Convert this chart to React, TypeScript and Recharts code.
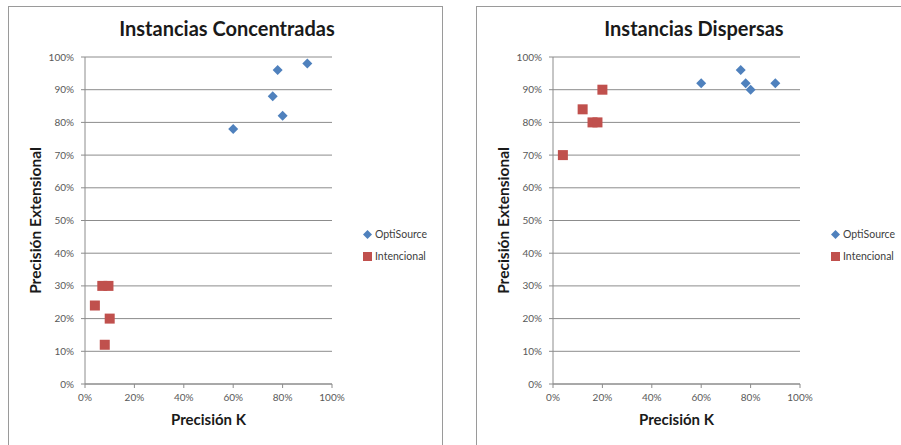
import React from 'react';
import { ScatterChart, Scatter, XAxis, YAxis, CartesianGrid, Label } from 'recharts';

// Instancias Concentradas
const concOptiX = [60, 76, 78, 80, 90];
const concOptiY = [78, 88, 96, 82, 98];
const concIntX = [7, 9.5, 4, 10, 8];
const concIntY = [30, 30, 24, 20, 12];

// Instancias Dispersas
const dispOptiX = [60, 76, 78, 80, 90];
const dispOptiY = [92, 96, 92, 90, 92];
const dispIntX = [4, 12, 16, 18, 20];
const dispIntY = [70, 84, 80, 80, 90];

const xTicks = [0, 20, 40, 60, 80, 100];
const yTicks = [0, 10, 20, 30, 40, 50, 60, 70, 80, 90, 100];

const BLUE = '#4F81BD';
const RED = '#C0504D';
const FONT = 'Lato, "Open Sans", sans-serif';

const toPoints = (xs: number[], ys: number[]) => xs.map((x, i) => ({ x, y: ys[i] }));

const Diamond = (props: any) => {
  const { cx, cy } = props;
  const r = 5;
  return <polygon points={`${cx},${cy - r} ${cx + r},${cy} ${cx},${cy + r} ${cx - r},${cy}`} fill={BLUE} />;
};

const Square = (props: any) => {
  const { cx, cy } = props;
  return <rect x={cx - 5} y={cy - 5} width={10} height={10} fill={RED} />;
};

const LegendBox = ({ left, top }: { left: number; top: number }) => (
  <div style={{ position: 'absolute', left, top, fontFamily: FONT, fontSize: 10.5, color: '#404040', lineHeight: '22px' }}>
    <div style={{ display: 'flex', alignItems: 'center' }}>
      <svg width={9} height={9} style={{ marginRight: 3 }}>
        <polygon points="4.5,0 9,4.5 4.5,9 0,4.5" fill={BLUE} />
      </svg>
      OptiSource
    </div>
    <div style={{ display: 'flex', alignItems: 'center' }}>
      <svg width={9} height={9} style={{ marginRight: 3 }}>
        <rect x={0} y={0} width={9} height={9} fill={RED} />
      </svg>
      Intencional
    </div>
  </div>
);

const tickStyle = { fill: '#595959', fontSize: 10, fontFamily: FONT };

interface PanelProps {
  left: number;
  title: string;
  marginLeft: number;
  opti: { x: number; y: number }[];
  inten: { x: number; y: number }[];
  legendLeft: number;
  titleCenter: number;
}

const Panel: React.FC<PanelProps> = ({ left, title, marginLeft, opti, inten, legendLeft, titleCenter }) => (
  <div style={{ position: 'absolute', left, top: 0, width: 451, height: 445 }}>
    <div
      style={{
        position: 'absolute', left: titleCenter - 150, width: 300, top: 16, textAlign: 'center',
        fontFamily: FONT, fontWeight: 700, fontSize: 20, color: '#1a1a1a',
      }}
    >
      {title}
    </div>
    <ScatterChart width={451} height={445} margin={{ top: 57, right: 451 - marginLeft - 65 - 247, bottom: 16, left: marginLeft }}>
      <CartesianGrid vertical={false} stroke="#8c8c8c" />
      <XAxis
        type="number"
        dataKey="x"
        domain={[0, 100]}
        ticks={xTicks}
        tickFormatter={(v) => `${v}%`}
        tick={tickStyle}
        tickSize={4}
        tickMargin={6}
        stroke="#8c8c8c"
        height={45}
      >
        <Label value="Precisión K" position="insideBottom" offset={4}
          style={{ fontFamily: FONT, fontWeight: 700, fontSize: 15, fill: '#1a1a1a' }} />
      </XAxis>
      <YAxis
        type="number"
        dataKey="y"
        domain={[0, 100]}
        ticks={yTicks}
        tickFormatter={(v) => `${v}%`}
        tick={tickStyle}
        tickSize={4}
        tickMargin={7}
        stroke="#8c8c8c"
        width={65}
      >
        <Label value="Precisión Extensional" angle={-90} position="insideLeft" offset={15}
          style={{ textAnchor: 'middle', fontFamily: FONT, fontWeight: 700, fontSize: 15.5, fill: '#1a1a1a' }} />
      </YAxis>
      <Scatter name="OptiSource" data={opti} shape={<Diamond />} isAnimationActive={false} />
      <Scatter name="Intencional" data={inten} shape={<Square />} isAnimationActive={false} />
    </ScatterChart>
    <LegendBox left={legendLeft} top={223} />
  </div>
);

const App: React.FC = () => (
  <div style={{ position: 'absolute', left: 0, top: 0, width: 901, height: 445, overflow: 'hidden', background: '#fff' }}>
    <div style={{ position: 'absolute', left: 8, top: 6, width: 433, height: 460, border: '1px solid #9a9a9a' }} />
    <div style={{ position: 'absolute', left: 476, top: 6, width: 440, height: 460, border: '1px solid #9a9a9a' }} />
    <Panel
      left={0}
      title="Instancias Concentradas"
      marginLeft={20}
      opti={toPoints(concOptiX, concOptiY)}
      inten={toPoints(concIntX, concIntY)}
      legendLeft={363}
      titleCenter={227}
    />
    <Panel
      left={450}
      title="Instancias Dispersas"
      marginLeft={38}
      opti={toPoints(dispOptiX, dispOptiY)}
      inten={toPoints(dispIntX, dispIntY)}
      legendLeft={381}
      titleCenter={244}
    />
  </div>
);

export default App;
